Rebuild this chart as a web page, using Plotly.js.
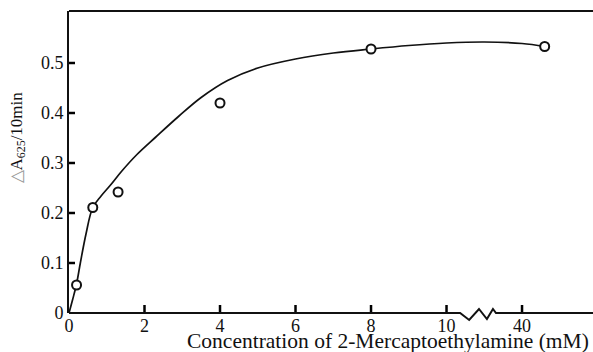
<!DOCTYPE html>
<html>
<head>
<meta charset="utf-8">
<script src="https://cdn.plot.ly/plotly-3.0.1.min.js"></script>
<style>
html,body{margin:0;padding:0;background:#fff;}
#chart{width:593px;height:352px;}
</style>
</head>
<body>
<div id="chart"></div>
<script>
// x positions on the (broken) axis; position 12 is labelled 40 mM
const xTickVals = [0, 2, 4, 6, 8, 10, 12];
const xTickText = ['0', '2', '4', '6', '8', '10', '40'];
const yTickVals = [0, 0.1, 0.2, 0.3, 0.4, 0.5];
const yTickText = ['0', '0.1', '0.2', '0.3', '0.4', '0.5'];

// measured points
const pointX = [0.2, 0.63, 1.3, 4.0, 8.0, 12.6];
const pointY = [0.056, 0.211, 0.242, 0.420, 0.528, 0.533];

// fitted curve
const curveX = [0, 0.1, 0.2, 0.3, 0.45, 0.63, 0.85, 1.1, 1.4, 1.8, 2.3, 2.9, 3.5, 4.2, 5.0, 6.0, 7.0, 8.0, 9.0, 10.0, 11.0, 12.0, 12.6];
const curveY = [0, 0.028, 0.058, 0.100, 0.158, 0.211, 0.234, 0.256, 0.284, 0.317, 0.352, 0.393, 0.431, 0.465, 0.490, 0.508, 0.520, 0.528, 0.535, 0.540, 0.542, 0.539, 0.533];

const xMax = 13.88, yMax = 0.604;
// axis break zigzag (x in axis units, y in pixels from the axis line)
const zigX = [10.36, 10.60, 10.86, 11.07, 11.23, 11.31];
const zigY = [0, -7, 4, -6, 4, 0];

const serif = '"Liberation Serif", "Times New Roman", serif';
const ink = '#111';
const plotW = 524, plotH = 302;

// inward tick marks built from the tick values (8 px up, 6 px right)
const tkX = [], tkY = [];
xTickVals.slice(1).forEach(v => { tkX.push(v, v, null); tkY.push(0, 8 * yMax / plotH, null); });
yTickVals.slice(1).forEach(v => { tkX.push(0, 6 * xMax / plotW, null); tkY.push(v, v, null); });

const traces = [
  {
    x: tkX, y: tkY, type: 'scatter', mode: 'lines', connectgaps: false, cliponaxis: false,
    line: {color: '#000', width: 2.5}, hoverinfo: 'skip', showlegend: false
  },
  {
    x: curveX, y: curveY, type: 'scatter', mode: 'lines',
    line: {color: ink, width: 1.7, shape: 'spline', smoothing: 1},
    hoverinfo: 'skip', showlegend: false
  },
  {
    x: pointX, y: pointY, type: 'scatter', mode: 'markers',
    marker: {symbol: 'circle', size: 9, color: '#fff', line: {color: ink, width: 2}},
    showlegend: false
  }
];

let zig = 'M0,0';
for (let i = 0; i < zigX.length; i++) zig += ' L' + zigX[i] + ',' + zigY[i];
zig += ' L' + xMax + ',0';

const layout = {
  width: 593, height: 352,
  margin: {l: 69, r: 0, t: 11, b: 39},
  paper_bgcolor: '#fff', plot_bgcolor: '#fff',
  font: {family: serif, color: ink, size: 18},
  xaxis: {
    range: [0, xMax], tickvals: xTickVals, ticktext: xTickText,
    ticks: '', showline: false, showgrid: false, zeroline: false,
    tickfont: {family: serif, size: 18, color: ink},
    automargin: false
  },
  yaxis: {
    range: [0, yMax], tickvals: yTickVals, ticktext: yTickText,
    ticks: '', showline: true, linecolor: ink, linewidth: 2,
    showgrid: false, zeroline: false,
    tickfont: {family: serif, size: 18, color: ink},
    automargin: false
  },
  annotations: [
    {text: 'Concentration of 2-Mercaptoethylamine (mM)', xref: 'paper', yref: 'paper',
     x: 0.608, y: -0.092, xanchor: 'center', yanchor: 'middle', showarrow: false,
     font: {family: serif, size: 21.5, color: ink}},
    {text: '<span style="color:#999">△</span>A<sub>625</sub>/10min', xref: 'paper', yref: 'paper',
     x: -0.098, y: 0.58, xanchor: 'center', yanchor: 'middle', textangle: -90, showarrow: false,
     font: {family: serif, size: 17, color: ink}}
  ],
  shapes: [
    {type: 'path', xref: 'x', yref: 'paper', ysizemode: 'pixel', yanchor: 0,
     path: zig, line: {color: ink, width: 2}, layer: 'above'},
    {type: 'line', xref: 'paper', yref: 'paper', x0: 0, x1: 1, y0: 1, y1: 1,
     line: {color: ink, width: 2}, layer: 'above'}
  ]
};

Plotly.newPlot('chart', traces, layout, {displayModeBar: false, staticPlot: true});
</script>
</body>
</html>
